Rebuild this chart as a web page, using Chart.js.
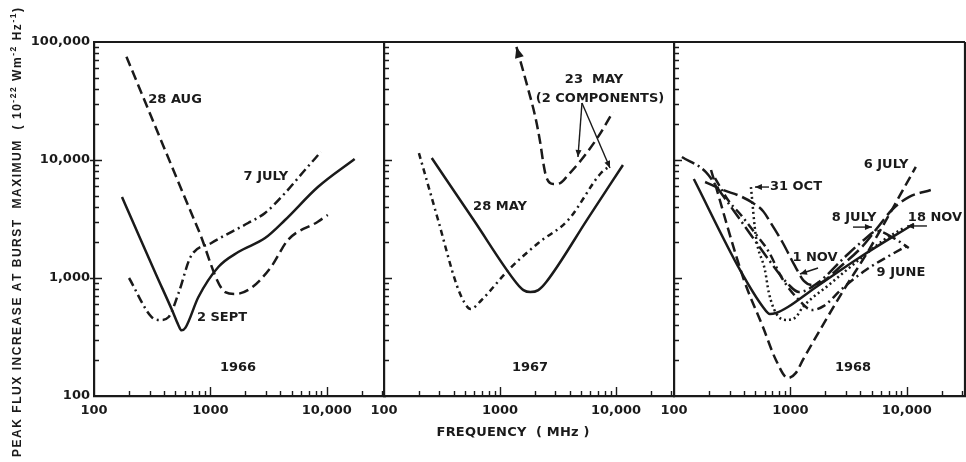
<!DOCTYPE html>
<html>
<head>
<meta charset="utf-8">
<title>Peak flux increase at burst maximum, 1966–1968</title>
<script src="https://cdn.jsdelivr.net/npm/chart.js@4.4.1/dist/chart.umd.min.js"></script>
<style>
  html, body { margin: 0; padding: 0; background: #ffffff; }
  #wrap { position: relative; width: 966px; height: 462px; }
  #wrap canvas { position: absolute; left: 0; top: 0; }
</style>
</head>
<body>
<div id="wrap">
  <canvas id="p1966" width="966" height="462"></canvas>
  <canvas id="p1967" width="966" height="462"></canvas>
  <canvas id="p1968" width="966" height="462"></canvas>
</div>
<script>
// ---- axis ticks -------------------------------------------------------
const freqTickValues = [100, 1000, 10000];
const freqTickLabels = ['100', '1000', '10,000'];
const fluxTickValues = [100, 1000, 10000, 100000];
const fluxTickLabels = ['100', '1,000', '10,000', '100,000'];

// ---- 1966 (frequency in MHz, flux in 1e-22 W m^-2 Hz^-1) ----------------
const aug28Freq = [190, 790, 1340, 1640, 2240, 3320, 4640, 8380, 10200];
const aug28Flux = [75000, 2550, 760, 732, 823, 1240, 2100, 3000, 3420];

const jul7Freq = [200, 313, 374, 438, 533, 675, 1020, 2110, 2950, 4380, 6490, 8890];
const jul7Flux = [1000, 467, 441, 467, 746, 1507, 1980, 2925, 3557, 5250, 8230, 11700];

const sep2Freq = [174, 211, 339, 470, 530, 565, 611, 789, 1170, 1735, 2950, 4380, 8380, 17350];
const sep2Flux = [4850, 3150, 1087, 530, 400, 360, 380, 690, 1240, 1660, 2180, 3100, 5900, 10200];

// ---- 1967 ----------------------------------------------------------------
const may28Freq = [258, 593, 1386, 1592, 1827, 2140, 2505, 5750, 11480];
const may28Flux = [10400, 3100, 908, 790, 760, 790, 925, 3220, 9080];

const may23aFreq = [1386, 1757, 2017, 2227, 2362, 2505, 2877, 3305, 3870, 5010, 7000, 9420];
const may23aFlux = [90800, 39200, 23100, 13900, 9440, 7180, 6260, 6380, 7460, 10000, 15700, 25500];

const may23bFreq = [200, 291, 423, 496, 558, 694, 1183, 2140, 3870, 7430, 8880];
const may23bFlux = [11450, 3162, 873, 614, 546, 651, 1170, 1980, 3100, 7760, 8900];

// ---- 1968 ----------------------------------------------------------------
const jul6Freq = [208, 399, 581, 751, 952, 1115, 1280, 2767, 4720, 11950];
const jul6Flux = [8230, 962, 385, 202, 142, 157, 202, 746, 1726, 8730];

const nov18Freq = [148, 369, 581, 667, 751, 952, 1530, 3870, 11480];
const nov18Flux = [6900, 1170, 568, 495, 505, 568, 791, 1477, 2870];

const jun9Freq = [225, 291, 376, 496, 654, 845, 1183, 1530, 1940, 2767, 4450, 7000, 10400];
const jun9Flux = [7030, 4580, 3420, 2405, 1660, 1000, 651, 535, 580, 807, 1170, 1535, 1905];

const nov1Freq = [185, 263, 369, 477, 581, 680, 862, 1093, 1306, 1530, 1828, 2608, 4110, 5750, 7430, 10400, 16070];
const nov1Flux = [6510, 5570, 4950, 4320, 3700, 2920, 1980, 1265, 945, 873, 908, 1216, 1832, 2760, 3770, 4850, 5570];

const jul8Freq = [117, 188, 243, 399, 654, 971, 1183, 1757, 2877, 4275, 5530, 7730, 10400];
const jul8Flux = [10600, 7910, 5570, 2810, 1422, 873, 760, 925, 1477, 2100, 2500, 2180, 1795];

const oct31Freq = [458, 506, 604, 654, 751, 915, 1115, 1280, 2140, 3870, 6350, 9420];
const oct31Flux = [5900, 2225, 1170, 746, 505, 441, 467, 568, 873, 1422, 2100, 2655];

// ---- curve labels (anchored in frequency / flux units) -------------------
const labels1966 = [
  { text: '28 AUG', f: 497, s: 32200 },
  { text: '7 JULY', f: 3000, s: 7180 },
  { text: '2 SEPT', f: 1259, s: 458 },
  { text: '1966', f: 1727, s: 173 }
];
const labels1967 = [
  { text: '23  MAY', f: 6460, s: 47600 },
  { text: '(2 COMPONENTS)', f: 7280, s: 32900 },
  { text: '28 MAY', f: 1000, s: 4000 },
  { text: '1967', f: 1815, s: 173 }
];
const labels1968 = [
  { text: '6 JULY', f: 6630, s: 9080 },
  { text: '31 OCT', f: 1117, s: 5900 },
  { text: '8 JULY', f: 3520, s: 3220 },
  { text: '18 NOV', f: 17470, s: 3220 },
  { text: '1 NOV', f: 1627, s: 1477 },
  { text: '9 JUNE', f: 8910, s: 1100 },
  { text: '1968', f: 3450, s: 173 }
];

// pointer arrows from labels to curves: start -> tip
const arrows1967 = [
  { f0: 5090, s0: 30400, f1: 4700, s1: 10600 },
  { f0: 5090, s0: 30400, f1: 8880, s1: 8560 }
];
const arrows1968 = [
  { f0: 655, s0: 5900, f1: 496, s1: 5900 },
  { f0: 3450, s0: 2700, f1: 5020, s1: 2700 },
  { f0: 14900, s0: 2760, f1: 10050, s1: 2760 },
  { f0: 1727, s0: 1216, f1: 1208, s1: 1081 }
];

// ---- drawing setup -------------------------------------------------------
const INK = '#1a1a1a';
const FAMILY = '"DejaVu Sans", "Liberation Sans", sans-serif';
const FREQ_MAX = Math.pow(10, 4.5);
const DASH = {
  solid: [],
  dashed: [10, 5],
  dashDot: [9, 4, 2, 4],
  shortDashDot: [6, 4, 2, 4],
  dotted: [2, 3],
  longDash: [15, 5],
  longDashDot: [14, 4, 2, 4]
};

function curve(label, freq, flux, dash, extra) {
  return Object.assign({
    label,
    data: freq.map((f, i) => ({ x: f, y: flux[i] })),
    borderColor: INK,
    borderWidth: 2.5,
    borderDash: dash,
    pointRadius: 0,
    pointHoverRadius: 0,
    cubicInterpolationMode: 'monotone',
    fill: false
  }, extra || {});
}

// minor decade positions for the inward tick marks
function minorsBetween(lo, hi) {
  const out = [];
  for (let d = lo; d < hi; d *= 10) {
    for (let m = 2; m <= 9; m++) if (m * d < hi) out.push(m * d);
  }
  return out;
}
const minorFreq = minorsBetween(100, FREQ_MAX);
const minorFlux = minorsBetween(100, 100000);

function arrowHead(ctx, tipX, tipY, fromX, fromY, len, half) {
  const a = Math.atan2(tipY - fromY, tipX - fromX);
  ctx.beginPath();
  ctx.moveTo(tipX, tipY);
  ctx.lineTo(tipX - len * Math.cos(a) + half * Math.sin(a), tipY - len * Math.sin(a) - half * Math.cos(a));
  ctx.lineTo(tipX - len * Math.cos(a) - half * Math.sin(a), tipY - len * Math.sin(a) + half * Math.cos(a));
  ctx.closePath();
  ctx.fill();
}

// draws a run of text (with optional raised parts) stretched to a given length
function spacedRun(ctx, segments, length, font, supFont, rise) {
  let natural = 0, count = 0;
  for (const seg of segments) {
    ctx.font = seg.sup ? supFont : font;
    for (const ch of seg.t) { natural += ctx.measureText(ch).width; count++; }
  }
  const gap = (length - natural) / Math.max(count - 1, 1);
  let pos = 0;
  for (const seg of segments) {
    ctx.font = seg.sup ? supFont : font;
    for (const ch of seg.t) {
      ctx.fillText(ch, pos, seg.sup ? -rise : 0);
      pos += ctx.measureText(ch).width + gap;
    }
  }
}

const fluxTitle = [
  { t: 'PEAK FLUX INCREASE AT BURST  MAXIMUM  ( 10' },
  { t: '-22', sup: true },
  { t: ' Wm' },
  { t: '-2', sup: true },
  { t: ' Hz' },
  { t: '-1', sup: true },
  { t: ')' }
];

function decor(cfg) {
  return {
    id: 'decor',
    afterDraw(chart) {
      const { ctx, chartArea: a } = chart;
      const x = chart.scales.x, y = chart.scales.y;
      ctx.save();
      ctx.strokeStyle = INK;
      ctx.fillStyle = INK;

      // frame: top edge, and closing right edge on the last panel
      ctx.lineWidth = 2.2;
      ctx.beginPath();
      ctx.moveTo(a.left - 1, a.top);
      ctx.lineTo(a.right, a.top);
      if (cfg.closeRight) { ctx.moveTo(a.right, a.top); ctx.lineTo(a.right, a.bottom + 1); }
      ctx.stroke();

      // inward tick marks
      ctx.lineWidth = 1.4;
      ctx.beginPath();
      for (const v of minorFlux) {
        const py = Math.round(y.getPixelForValue(v)) + 0.5;
        ctx.moveTo(a.left, py); ctx.lineTo(a.left + 5, py);
      }
      for (const v of fluxTickValues.slice(1, -1)) {
        const py = Math.round(y.getPixelForValue(v)) + 0.5;
        ctx.moveTo(a.left - (cfg.outerMajor ? 4 : 0), py); ctx.lineTo(a.left + 8, py);
      }
      for (const v of minorFreq) {
        const px = Math.round(x.getPixelForValue(v)) + 0.5;
        ctx.moveTo(px, a.bottom); ctx.lineTo(px, a.bottom - 5);
      }
      for (const v of freqTickValues.slice(1)) {
        const px = Math.round(x.getPixelForValue(v)) + 0.5;
        ctx.moveTo(px, a.bottom); ctx.lineTo(px, a.bottom - 9);
      }
      ctx.stroke();

      // arrowhead at the start of flagged curves
      chart.data.datasets.forEach((ds, i) => {
        if (!ds.arrowStart) return;
        const pts = chart.getDatasetMeta(i).data;
        arrowHead(ctx, pts[0].x, pts[0].y, pts[1].x, pts[1].y, 11, 4.5);
      });

      // pointer arrows
      ctx.lineWidth = 1.4;
      for (const ar of cfg.arrows || []) {
        const x0 = x.getPixelForValue(ar.f0), y0 = y.getPixelForValue(ar.s0);
        const x1 = x.getPixelForValue(ar.f1), y1 = y.getPixelForValue(ar.s1);
        ctx.beginPath(); ctx.moveTo(x0, y0); ctx.lineTo(x1, y1); ctx.stroke();
        arrowHead(ctx, x1, y1, x0, y0, 7, 3);
      }

      // curve labels
      ctx.font = 'bold 13px ' + FAMILY;
      ctx.textAlign = 'center';
      ctx.textBaseline = 'middle';
      for (const l of cfg.labels) {
        ctx.fillText(l.text, x.getPixelForValue(l.f), y.getPixelForValue(l.s));
      }

      // axis titles
      if (cfg.fluxTitle) {
        ctx.save();
        ctx.textAlign = 'left';
        ctx.textBaseline = 'alphabetic';
        ctx.translate(21, 457);
        ctx.rotate(-Math.PI / 2);
        spacedRun(ctx, fluxTitle, 449, 'bold 12px "Liberation Sans", sans-serif', 'bold 8.5px "Liberation Sans", sans-serif', 5);
        ctx.restore();
      }
      if (cfg.freqTitle) {
        ctx.save();
        ctx.textAlign = 'left';
        ctx.textBaseline = 'middle';
        const w = 153;
        const cx = a.left + 0.445 * (a.right - a.left);
        ctx.translate(cx - w / 2, 433);
        spacedRun(ctx, [{ t: 'FREQUENCY  ( MHz )' }], w, 'bold 13px ' + FAMILY, 'bold 13px ' + FAMILY, 0);
        ctx.restore();
      }
      ctx.restore();
    }
  };
}

function panel(canvasId, left, right, datasets, cfg) {
  const first = !!cfg.fluxTitle;
  const tickFont = { family: FAMILY, size: 13, weight: 'bold' };
  return new Chart(document.getElementById(canvasId), {
    type: 'line',
    data: { datasets },
    options: {
      responsive: false,
      animation: false,
      events: [],
      layout: { padding: { left: first ? 0 : left, right: 966 - right, top: 42, bottom: 0 } },
      plugins: { legend: { display: false }, tooltip: { enabled: false } },
      scales: {
        x: {
          type: 'logarithmic',
          min: 100,
          max: FREQ_MAX,
          bounds: 'data',
          grid: { display: false, drawTicks: false },
          border: { display: true, color: INK, width: 2.2 },
          ticks: {
            color: INK, font: tickFont, padding: 7, maxRotation: 0, minRotation: 0, autoSkip: false,
            callback: (v, i) => freqTickLabels[i]
          },
          afterBuildTicks: s => { s.ticks = freqTickValues.map(v => ({ value: v })); },
          afterFit: s => { s.height = 66; }
        },
        y: {
          type: 'logarithmic',
          min: 100,
          max: 100000,
          bounds: 'data',
          grid: { display: false, drawTicks: false },
          border: { display: true, color: INK, width: 2.2 },
          ticks: {
            display: first, color: INK, font: tickFont, padding: 4, autoSkip: false,
            callback: (v, i) => fluxTickLabels[i]
          },
          afterBuildTicks: s => { s.ticks = fluxTickValues.map(v => ({ value: v })); },
          afterFit: s => { s.width = first ? left : 0; }
        }
      }
    },
    plugins: [decor(cfg)]
  });
}

panel('p1966', 94, 385, [
  curve('28 AUG', aug28Freq, aug28Flux, DASH.dashed),
  curve('7 JULY', jul7Freq, jul7Flux, DASH.dashDot),
  curve('2 SEPT', sep2Freq, sep2Flux, DASH.solid)
], { labels: labels1966, fluxTitle: true, outerMajor: true });

panel('p1967', 384, 674, [
  curve('28 MAY', may28Freq, may28Flux, DASH.solid),
  curve('23 MAY', may23aFreq, may23aFlux, DASH.dashed, { arrowStart: true }),
  curve('23 MAY', may23bFreq, may23bFlux, DASH.shortDashDot)
], { labels: labels1967, arrows: arrows1967, freqTitle: true });

panel('p1968', 674, 965, [
  curve('6 JULY', jul6Freq, jul6Flux, DASH.dashed),
  curve('18 NOV', nov18Freq, nov18Flux, DASH.solid),
  curve('9 JUNE', jun9Freq, jun9Flux, DASH.dashDot),
  curve('1 NOV', nov1Freq, nov1Flux, DASH.longDash),
  curve('8 JULY', jul8Freq, jul8Flux, DASH.longDashDot),
  curve('31 OCT', oct31Freq, oct31Flux, DASH.dotted)
], { labels: labels1968, arrows: arrows1968, closeRight: true });
</script>
</body>
</html>
